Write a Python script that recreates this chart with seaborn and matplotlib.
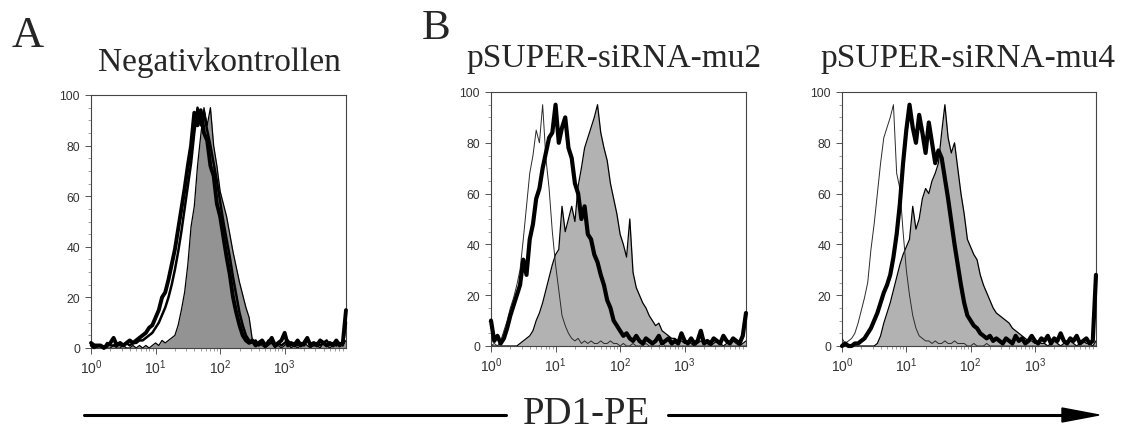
import numpy as np
import pandas as pd
import matplotlib
matplotlib.use("Agg")
import matplotlib.pyplot as plt
import seaborn as sns
from matplotlib.ticker import FixedLocator, MultipleLocator, LogLocator, NullFormatter
from matplotlib.lines import Line2D
from matplotlib.patches import Polygon

# ---------------- data ----------------
# instrument channel grid, in decades of PD1-PE fluorescence (10^0 .. 10^3.95)
log_channel = np.round(np.arange(80) * 0.05, 2)
fluorescence = 10 ** log_channel

panel_titles = ["Negativkontrollen", "pSUPER-siRNA-mu2", "pSUPER-siRNA-mu4"]
panel_letters = ["A", "B"]
x_tick_values = [1, 10, 100, 1000]
x_tick_labels = [r"$10^{0}$", r"$10^{1}$", r"$10^{2}$", r"$10^{3}$"]
y_tick_values = [0, 20, 40, 60, 80, 100]
axis_label = "PD1-PE"

# Panel A (negative control): % of max per channel
gray_A = [0, 1, 0, 0, 1, 0, 0, 1, 0, 0, 1, 0, 0, 1, 0, 1, 0, 1, 0, 1,
          2, 1, 3, 2, 3, 4, 5, 9, 15, 22, 33, 48, 56, 72, 84, 95, 88, 95, 80, 72,
          62, 57, 52, 45, 38, 32, 26, 21, 16, 12, 3, 1, 2, 1, 0, 1, 2, 0, 1, 0,
          1, 2, 0, 1, 0, 1, 2, 1, 0, 1, 1, 0, 2, 1, 0, 1, 1, 2, 1, 3]
thick_A = [2, 1, 1, 1, 0, 1, 2, 4, 1, 2, 1, 2, 3, 2, 3, 4, 5, 6, 8, 9,
           12, 15, 20, 22, 27, 33, 39, 47, 55, 63, 72, 80, 93, 88, 94, 85, 82, 72, 68, 57,
           52, 44, 36, 29, 20, 14, 9, 5, 3, 2, 3, 1, 2, 3, 1, 2, 4, 1, 2, 3,
           6, 1, 2, 1, 3, 1, 2, 4, 1, 2, 1, 3, 2, 1, 2, 1, 3, 1, 2, 15]
second_A = [1, 0, 1, 1, 0, 2, 1, 1, 2, 1, 1, 2, 1, 2, 2, 3, 3, 4, 5, 6,
            8, 10, 13, 16, 20, 25, 31, 38, 46, 55, 64, 73, 85, 95, 88, 93, 86, 80, 73, 66,
            58, 50, 43, 36, 28, 21, 14, 9, 5, 3, 2, 3, 1, 2, 1, 3, 2, 1, 2, 1,
            2, 3, 1, 2, 1, 2, 1, 3, 2, 1, 2, 1, 2, 3, 1, 2, 1, 2, 1, 10]

# Panel B (pSUPER-siRNA-mu2)
iso_B = [0, 1, 0, 2, 6, 10, 15, 19, 24, 30, 42, 55, 68, 75, 85, 80, 95, 74, 62, 45,
         32, 22, 12, 8, 5, 3, 2, 3, 1, 2, 1, 2, 1, 1, 2, 1, 1, 2, 1, 1,
         0, 1, 0, 0, 1, 0, 0, 0, 1, 0, 0, 0, 0, 1, 0, 0, 0, 0, 0, 0,
         0, 0, 0, 0, 0, 0, 0, 0, 0, 0, 0, 0, 0, 0, 0, 0, 0, 0, 0, 0]
thick_B = [10, 2, 4, 1, 3, 7, 12, 16, 20, 24, 34, 28, 42, 48, 58, 62, 70, 76, 82, 84,
           95, 80, 86, 90, 78, 74, 64, 60, 50, 55, 44, 42, 36, 33, 28, 24, 18, 15, 10, 8,
           6, 4, 5, 3, 2, 4, 2, 1, 3, 2, 1, 2, 4, 1, 2, 3, 1, 2, 1, 5,
           2, 1, 3, 1, 2, 6, 1, 2, 1, 3, 2, 1, 4, 2, 1, 3, 2, 1, 4, 13]
gray_B = [0, 0, 0, 0, 0, 0, 0, 0, 0, 1, 2, 3, 4, 6, 10, 13, 17, 22, 27, 32,
          36, 38, 55, 45, 50, 55, 49, 63, 70, 78, 82, 86, 90, 95, 84, 78, 73, 64, 58, 52,
          44, 40, 35, 50, 29, 23, 20, 17, 15, 12, 10, 8, 9, 6, 5, 4, 3, 3, 2, 2,
          1, 2, 1, 0, 1, 2, 1, 1, 0, 1, 2, 1, 0, 1, 1, 2, 1, 0, 1, 2]

# Panel C (pSUPER-siRNA-mu4)
iso_C = [3, 1, 2, 3, 5, 9, 14, 19, 25, 38, 48, 60, 72, 82, 86, 90, 95, 68, 62, 45,
         30, 20, 12, 7, 4, 3, 2, 2, 1, 2, 1, 1, 2, 1, 1, 2, 1, 1, 1, 0,
         0, 1, 0, 0, 0, 1, 0, 0, 0, 0, 0, 0, 0, 0, 0, 0, 0, 0, 0, 0,
         0, 0, 0, 0, 0, 0, 0, 0, 0, 0, 0, 0, 0, 0, 0, 0, 0, 0, 0, 0]
thick_C = [0, 1, 0, 0, 1, 1, 2, 3, 5, 7, 10, 13, 17, 21, 24, 28, 35, 44, 56, 72,
           85, 95, 86, 80, 91, 84, 76, 88, 80, 72, 77, 74, 66, 58, 49, 40, 32, 24, 17, 12,
           10, 8, 7, 5, 4, 3, 4, 2, 3, 2, 1, 3, 2, 1, 4, 2, 3, 1, 2, 4,
           2, 1, 3, 2, 4, 1, 3, 2, 5, 2, 1, 3, 2, 4, 1, 2, 3, 1, 2, 28]
gray_C = [0, 0, 0, 0, 0, 0, 0, 0, 0, 0, 0, 1, 4, 9, 13, 17, 22, 27, 32, 36,
          39, 42, 55, 46, 50, 58, 62, 60, 65, 68, 72, 84, 95, 82, 76, 80, 70, 60, 52, 42,
          39, 36, 34, 28, 24, 21, 18, 15, 13, 12, 11, 10, 9, 7, 6, 5, 4, 3, 2, 2,
          1, 2, 1, 1, 0, 1, 2, 1, 0, 1, 1, 2, 1, 0, 1, 2, 1, 1, 0, 2]

# ---------------- style ----------------
sns.set_theme(style="white")
plt.rcParams["font.family"] = ["Liberation Sans", "DejaVu Sans"]
plt.rcParams["mathtext.default"] = "regular"

SERIF = ["Liberation Serif", "DejaVu Serif"]
W, H = 1122, 431
fig = plt.figure(figsize=(W / 100, H / 100), dpi=100)


def px_rect(left, top, right, bottom):
    return [left / W, 1 - bottom / H, (right - left) / W, (bottom - top) / H]


axes_px = [(91, 96, 346, 349), (491, 93, 746, 347), (842, 93, 1096, 347)]
panels = [
    dict(gray=gray_A, fill="#939393", thin=None, lines=[(second_A, 1.8), (thick_A, 2.8)]),
    dict(gray=gray_B, fill="#b2b2b2", thin=iso_B, lines=[(thick_B, 3.0)]),
    dict(gray=gray_C, fill="#b2b2b2", thin=iso_C, lines=[(thick_C, 3.0)]),
]

for i, (rect, p) in enumerate(zip(axes_px, panels)):
    ax = fig.add_axes(px_rect(*rect))
    df = pd.DataFrame({"x": fluorescence, "gray": p["gray"]})
    ax.fill_between(df["x"], 0, df["gray"], color=p["fill"], linewidth=0, zorder=1)
    sns.lineplot(data=df, x="x", y="gray", ax=ax, color="black", lw=0.9,
                 sort=False, zorder=2)
    if p["thin"] is not None:
        sns.lineplot(x=fluorescence, y=p["thin"], ax=ax, color="#2a2a2a", lw=0.7,
                     sort=False, zorder=3)
    for series, lw in p["lines"]:
        sns.lineplot(x=fluorescence, y=series, ax=ax, color="black", lw=lw,
                     sort=False, zorder=4, clip_on=False)

    ax.set_xscale("log")
    ax.set_xlim(1, fluorescence[-1])
    ax.set_ylim(0, 100)
    ax.xaxis.set_major_locator(FixedLocator(x_tick_values))
    ax.xaxis.set_minor_locator(LogLocator(base=10, subs=np.arange(2, 10)))
    ax.xaxis.set_minor_formatter(NullFormatter())
    ax.set_xticklabels(x_tick_labels)
    ax.yaxis.set_major_locator(FixedLocator(y_tick_values))
    ax.yaxis.set_minor_locator(MultipleLocator(5))
    ax.set_yticklabels([str(v) for v in y_tick_values])
    ax.set_xlabel("")
    ax.set_ylabel("")
    ax.tick_params(which="major", direction="out", length=4, width=0.7,
                   color="#555555", labelcolor="#333333",
                   bottom=True, left=True)
    ax.tick_params(which="minor", direction="out", length=2, width=0.5,
                   color="#777777", bottom=True, left=True)
    ax.tick_params(axis="x", which="major", pad=3, labelsize=10)
    ax.tick_params(axis="y", which="major", pad=4, labelsize=8.8)
    for s in ax.spines.values():
        s.set_color("#444444")
        s.set_linewidth(0.8)
        s.set_visible(True)
    ax.grid(False)

# titles (baseline positions)
title_pos = [(219, 71), (614, 67), (968, 67)]
for t, (cx, by) in zip(panel_titles, title_pos):
    fig.text(cx / W, 1 - by / H, t, ha="center", va="baseline",
             fontsize=24, family=SERIF)

fig.text(12 / W, 1 - 47 / H, panel_letters[0], ha="left", va="baseline",
         fontsize=32, family=SERIF)
fig.text(422 / W, 1 - 39 / H, panel_letters[1], ha="left", va="baseline",
         fontsize=31, family=SERIF)

# bottom axis label with arrow
fig.text(587 / W, 1 - 424 / H, axis_label, ha="center", va="baseline",
         fontsize=28, family=SERIF)
ly = 1 - 416 / H
fig.add_artist(Line2D([84 / W, 506 / W], [ly, ly], color="black", lw=2.2,
                      transform=fig.transFigure))
fig.add_artist(Line2D([668 / W, 1066 / W], [ly, ly], color="black", lw=2.2,
                      transform=fig.transFigure))
fig.add_artist(Polygon([[1062 / W, 1 - 409 / H], [1062 / W, 1 - 423 / H],
                        [1099 / W, ly]], closed=True, color="black",
                       transform=fig.transFigure))

fig.savefig("out.png", dpi=100)
